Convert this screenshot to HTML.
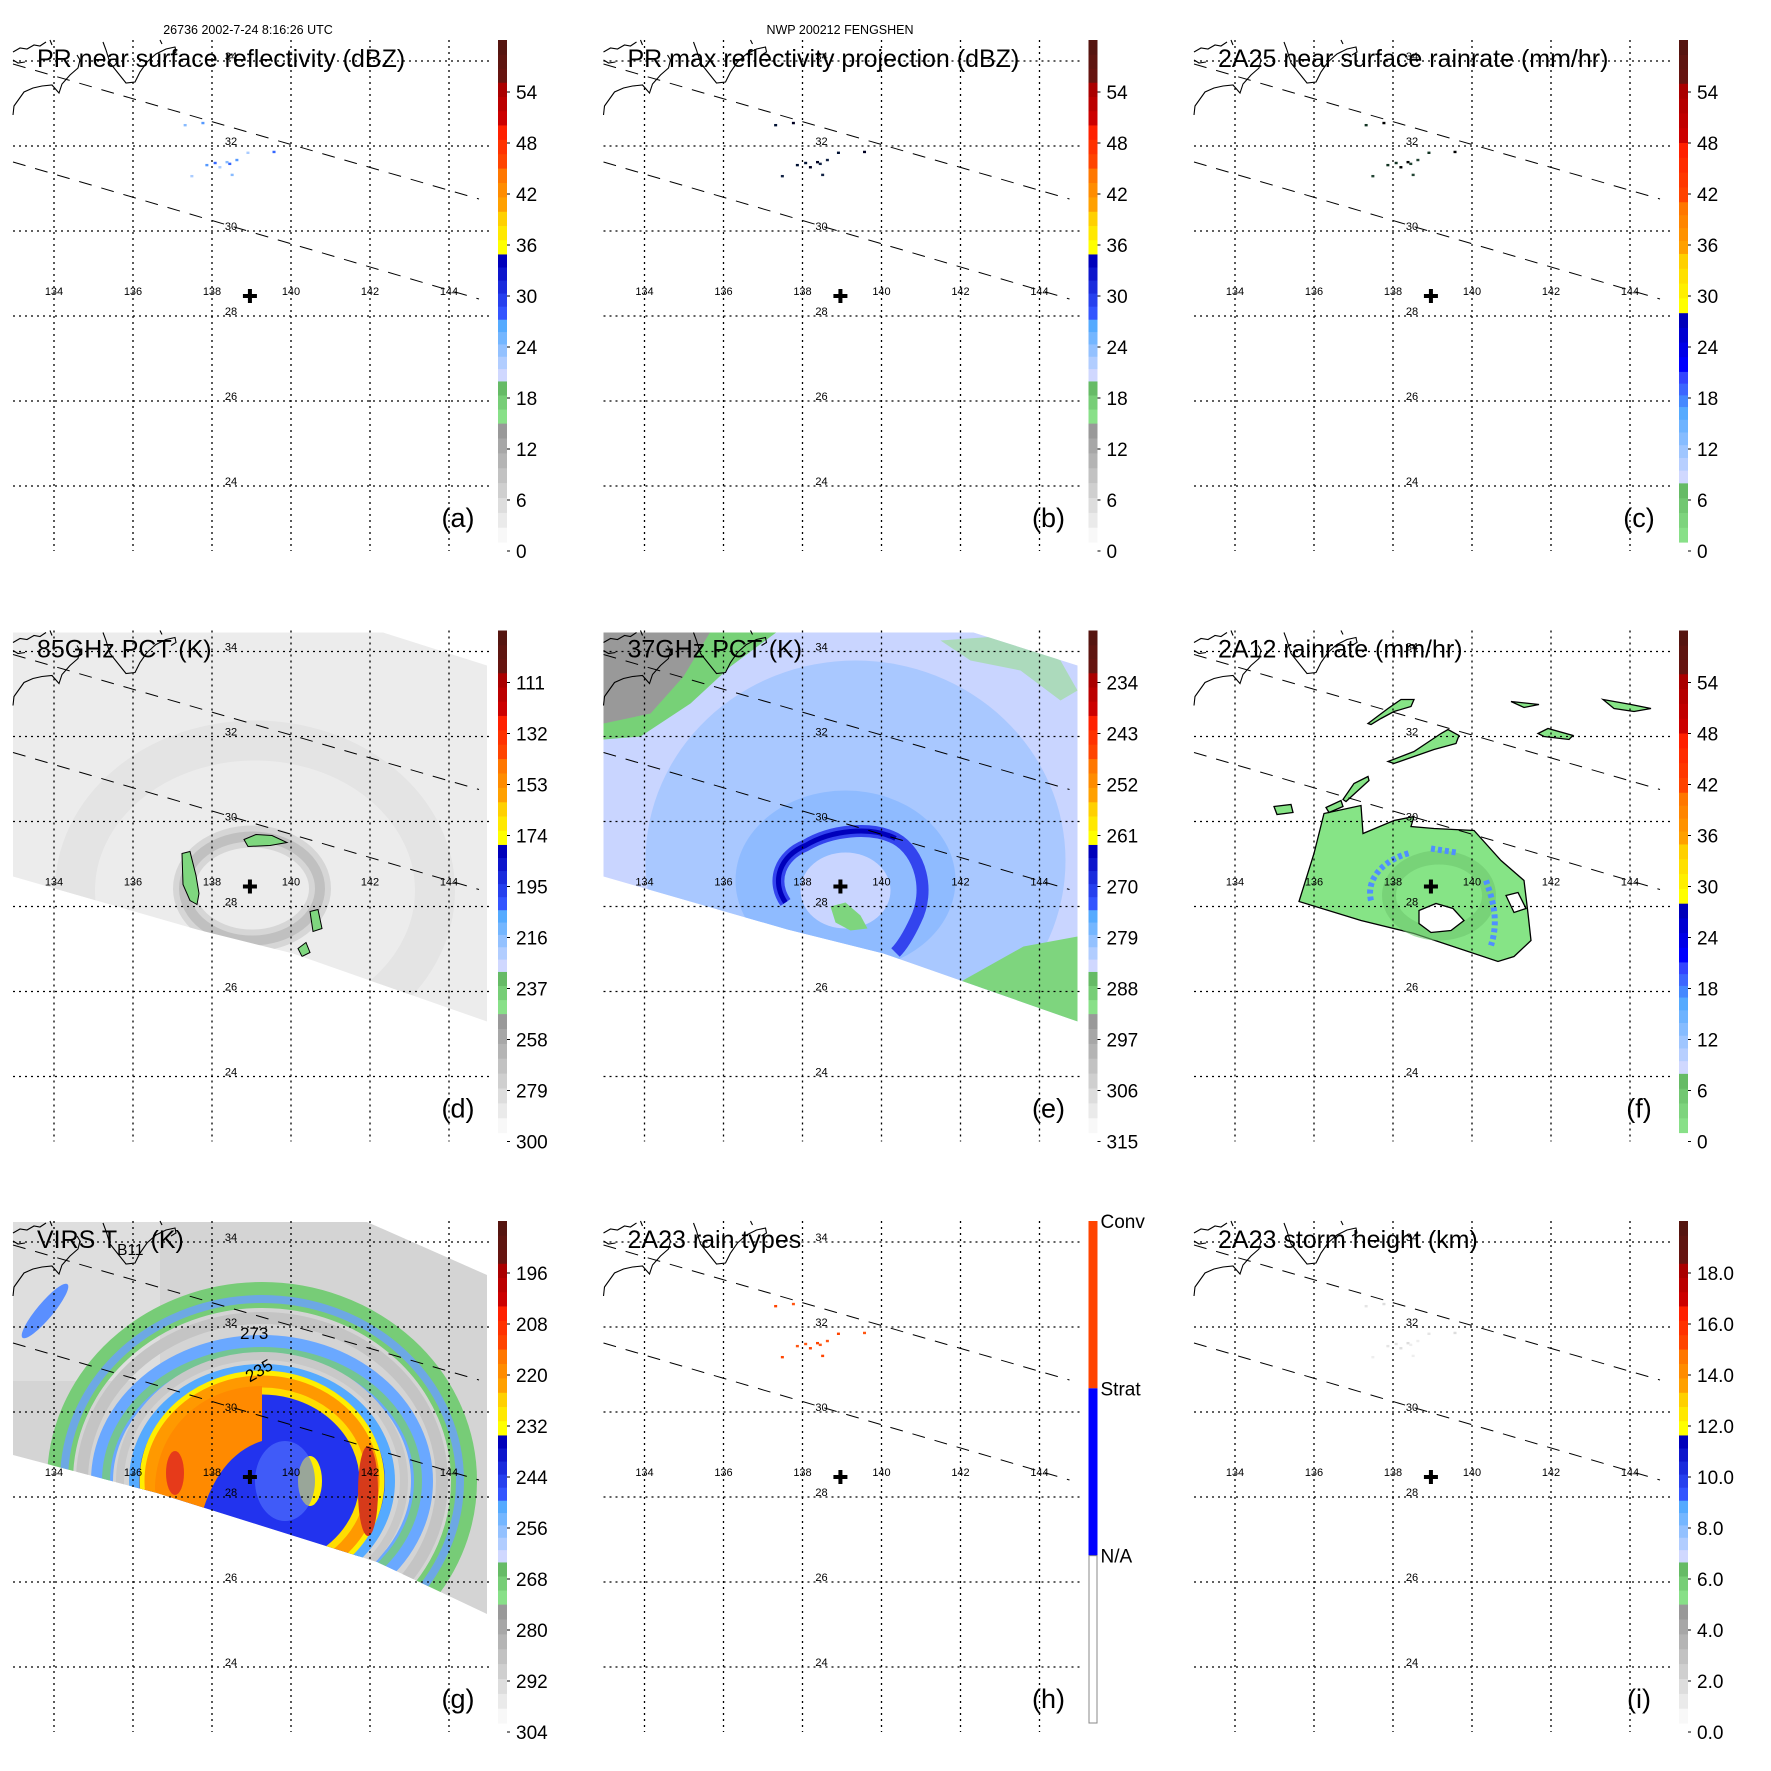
<!DOCTYPE html>
<html><head><meta charset="utf-8"><style>
html,body{margin:0;padding:0;background:#fff;}
svg{display:block;font-family:"Liberation Sans",Arial,sans-serif;}
</style></head><body>
<svg id="fig" width="1771" height="1771" viewBox="0 0 1771 1771" xmlns="http://www.w3.org/2000/svg">
<text x="248" y="34" font-size="12.5" text-anchor="middle">26736 2002-7-24 8:16:26 UTC</text>
<text x="840" y="34" font-size="12.5" text-anchor="middle">NWP 200212 FENGSHEN</text>
</svg>
<script>
const lonTicks=[134,136,138,140,142,144];
const latTicks=[24,26,28,30,32,34];
const stormCenter=[138.96,28.47];
const speckLon=[137.32,137.77,137.49,138.08,138.38,138.63,138.91,139.57,138.51,137.87,138.2,138.45];
const speckLat=[32.49,32.54,31.29,31.60,31.62,31.67,31.84,31.86,31.32,31.55,31.5,31.58];
const ticksDbz=["0","6","12","18","24","30","36","42","48","54"];
const ticks85=["300","279","258","237","216","195","174","153","132","111"];
const ticks37=["315","306","297","288","279","270","261","252","243","234"];
const ticksVirs=["304","292","280","268","256","244","232","220","208","196"];
const ticksHt=["0.0","2.0","4.0","6.0","8.0","10.0","12.0","14.0","16.0","18.0"];
const ticksRain=["0","6","12","18","24","30","36","42","48","54"];

const NS="http://www.w3.org/2000/svg";
const svg=document.getElementById('fig');
const PITCH=590.5;
function xs(lon){return 54+(lon-134)*39.5;}
function ys(lat){return 61+(34-lat)*42.5;}
function el(tag,attrs,parent){const e=document.createElementNS(NS,tag);for(const k in attrs)e.setAttribute(k,attrs[k]);(parent||svg).appendChild(e);return e;}
function hex(c){return [parseInt(c.substr(1,2),16),parseInt(c.substr(3,2),16),parseInt(c.substr(5,2),16)];}
function mix(a,b,t){const A=hex(a),B=hex(b);return 'rgb('+A.map((v,i)=>Math.round(v+(B[i]-v)*t)).join(',')+')';}

const palStd=[[0,0.237,'#f8f8f8','#999999',8],[0.237,0.321,'#88e088','#66bb66',3],[0.321,0.444,'#d0d8ff','#55aaff',5],[0.444,0.574,'#3355ff','#0000bb',5],[0.574,0.659,'#ffff00','#ffd000',3],[0.659,0.745,'#ffa000','#ff7700',3],[0.745,0.831,'#ff4400','#ff2000',3],[0.831,0.916,'#cc0000','#aa0000',3],[0.916,1,'#661410','#551510',3]];
const palRain=[[0,0.118,'#88e088','#66bb66',4],[0.118,0.27,'#d0d8ff','#55aaff',6],[0.27,0.34,'#4488ff','#3344ff',3],[0.34,0.457,'#0000ff','#0000bb',4],[0.457,0.575,'#ffff00','#ffd000',4],[0.575,0.678,'#ffa000','#ff7700',4],[0.678,0.796,'#ff4400','#ff2000',4],[0.796,0.914,'#cc0000','#aa0000',4],[0.914,1,'#661410','#551510',3]];

function panel(idx,o){
  const col=idx%3,row=Math.floor(idx/3);
  const g=el('g',{transform:'translate('+(col*PITCH)+','+(row*PITCH)+')'});
  
  
  const cid='clip'+idx;
  const cp=el('clipPath',{id:cid},g);
  el('polygon',{points:o.swath||'13,40 489,40 489,551 13,551'},cp);
  const img=el('g',{'clip-path':'url(#'+cid+')'},g);
  
  
  if(o.draw)o.draw(img);
  if(o.speck){speckLon.forEach((lo,i)=>{const r=el('rect',{x:xs(lo)-1.5,y:ys(speckLat[i])-1.2,width:3,height:2.4,fill:o.speck[i%o.speck.length]},g);});}
  lonTicks.forEach(lo=>{const l=el('line',{x1:xs(lo),x2:xs(lo),y1:40,y2:551,stroke:'#000','stroke-width':1.3,'stroke-dasharray':'2,4'},g);
    const t=el('text',{x:xs(lo),y:295,'font-size':11,'text-anchor':'middle'},g);t.textContent=lo;});
  latTicks.forEach(la=>{const l=el('line',{x1:13,x2:489,y1:ys(la),y2:ys(la),stroke:'#000','stroke-width':1.3,'stroke-dasharray':'2,4'},g);
    const t=el('text',{x:231,y:ys(la)-1,'font-size':11,'text-anchor':'middle'},g);t.textContent=la;});
  [[13,64,479,199],[13,162,479,299]].forEach((s,i)=>{const l=el('line',{x1:s[0],y1:s[1],x2:s[2],y2:s[3],stroke:'#000','stroke-width':1,'stroke-dasharray':'13,10'},g);});
  const cst=el('path',{d:'M13,52 L20,48 L27,49 L34,45 L40,46 L46,42 M13,60 L18,63 L25,62 M13,115 L14,106 L19,99 L24,92 L33,88 L42,86 L52,85 L59,93 L62,84 L70,75 L78,68 L80,60 L77,55 M50,40 L52,45 M103,42 L106,50 L110,63 L118,73 L126,83 L135,82 L140,72 L147,62 L156,54 L166,49 L175,47 L176,52 L171,55 M160,40 L162,44',fill:'none',stroke:'#000','stroke-width':1.1},g);
  
  const cx=xs(stormCenter[0]),cy=ys(stormCenter[1]);
  const cr=el('path',{d:'M'+(cx-7)+','+cy+' H'+(cx+7)+' M'+cx+','+(cy-7)+' V'+(cy+7),stroke:'#000','stroke-width':4},g);
  
  const tt=el('text',{x:37,y:67,'font-size':25},g);tt.innerHTML=o.title;
  const lb=el('text',{x:458,y:527,'font-size':27,'text-anchor':'middle'},g);lb.textContent='('+o.letter+')';
  const cb=el('g',{},g);
  const top=40,bot=542,H=bot-top;
  if(o.cats){
    el('rect',{x:498,y:top,width:9,height:H/3,fill:'#ff4400'},cb);
    el('rect',{x:498,y:top+H/3,width:9,height:H/3,fill:'#0000ff'},cb);
    el('rect',{x:498.5,y:top+2*H/3,width:8,height:H/3,fill:'#fff',stroke:'#888'},cb);
    o.cats.forEach((c,i)=>{const t=el('text',{x:510,y:top+i*H/3+7,'font-size':19},cb);t.textContent=c;});
  } else {
    o.pal.forEach(b=>{for(let k=0;k<b[4];k++){const f0=b[0]+(b[1]-b[0])*k/b[4],f1=b[0]+(b[1]-b[0])*(k+1)/b[4];
      el('rect',{x:498,y:bot-f1*H,width:9,height:(f1-f0)*H+0.6,fill:mix(b[2],b[3],b[4]>1?k/(b[4]-1):0)},cb);}});
    o.ticks.forEach((t,i)=>{const y=551-i*51;el('line',{x1:507,x2:510,y1:y,y2:y,stroke:'#000'},cb);
      const tx=el('text',{x:516,y:y+7,'font-size':19},cb);tx.textContent=t;});
  }
}
const swathDE='13,42 383,42 487,75 487,431 293,363 197,339 13,286';
const swathG='13,41 367,41 487,94 487,433 377,381 157,312 13,274';

panel(0,{letter:'a',title:'PR near surface reflectivity (dBZ)',pal:palStd,ticks:ticksDbz,speck:['#88bbff','#5599ff','#aaccff','#3366ff']});
panel(1,{letter:'b',title:'PR max reflectivity projection (dBZ)',pal:palStd,ticks:ticksDbz,speck:['#001133','#000022','#112244']});
panel(2,{letter:'c',title:'2A25 near surface rainrate (mm/hr)',pal:palRain,ticks:ticksRain,speck:['#113322','#000000','#224433']});
panel(3,{letter:'d',title:'85GHz PCT (K)',pal:palStd,ticks:ticks85,swath:swathDE,draw:g=>{
  el('rect',{x:0,y:0,width:500,height:560,fill:'#ececec'},g);
  el('ellipse',{cx:255,cy:300,rx:180,ry:150,fill:'none',stroke:'#e4e4e4','stroke-width':40},g);
  el('ellipse',{cx:252,cy:298,rx:68,ry:52,fill:'none',stroke:'#a8a8a8','stroke-width':10,opacity:0.8},g);
  el('ellipse',{cx:252,cy:298,rx:68,ry:52,fill:'none',stroke:'#c8c8c8','stroke-width':22,opacity:0.6},g);
  [['182,263 190,261 196,285 199,303 197,314 190,310 183,294'],['244,249 256,244 272,245 287,252 270,255 248,256'],['310,321 318,319 322,338 313,341'],['298,358 306,352 310,362 302,366']].forEach(p=>{const b=el('polygon',{points:p[0],fill:'#7fd77f',stroke:'#000','stroke-width':1},g);});
}});
panel(4,{letter:'e',title:'37GHz PCT (K)',pal:palStd,ticks:ticks37,swath:swathDE,draw:g=>{
  el('rect',{x:0,y:0,width:500,height:560,fill:'#c9d5ff'},g);
  el('ellipse',{cx:265,cy:270,rx:210,ry:200,fill:'#9ec3ff',opacity:0.75},g);
  el('ellipse',{cx:255,cy:290,rx:110,ry:90,fill:'#7fb2ff',opacity:0.6},g);
  el('ellipse',{cx:255,cy:300,rx:45,ry:38,fill:'#c9d5ff'},g);
  el('polygon',{points:'13,41 187,41 140,76 100,113 50,146 13,149',fill:'#77d177'},g);
  el('polygon',{points:'13,41 120,41 93,86 60,123 13,133',fill:'#999999'},g);
  el('polygon',{points:'367,393 433,356 487,346 487,431',fill:'#7ed57e'},g);
  el('polygon',{points:'240,316 255,312 270,325 277,338 260,340 245,332',fill:'#7ed57e'},g);
  el('polygon',{points:'350,50 420,45 470,70 487,100 470,110 430,80 380,70',fill:'#9fdc9f',opacity:0.7},g);
  const r=el('path',{d:'M195,312 C180,290 190,265 215,255 C240,240 280,235 305,248 C330,262 340,300 325,330 C318,345 312,355 305,362',fill:'none',stroke:'#3344ee','stroke-width':12},g);
  
  el('path',{d:'M195,312 C180,290 190,265 215,255 C240,240 280,235 305,248',fill:'none',stroke:'#0000bb','stroke-width':5},g);
}});
panel(5,{letter:'f',title:'2A12 rainrate (mm/hr)',pal:palRain,ticks:ticksRain,draw:g=>{
  const st={fill:'#86e486',stroke:'#000','stroke-width':1.3};
  const m=el('polygon',Object.assign({points:'118,311 133,263 143,223 180,215 182,243 213,230 233,226 230,236 253,238 293,240 320,270 343,290 347,323 350,350 333,366 317,371 233,343 180,330'},st),g);
  
  el('ellipse',{cx:258,cy:305,rx:50,ry:38,fill:'none',stroke:'#6fc86f','stroke-width':14,opacity:0.6},g);
  el('path',{d:'M190,310 C185,290 200,270 230,262 M250,258 L275,262 M305,290 C312,310 318,330 310,355',fill:'none',stroke:'#4f8fff','stroke-width':6,'stroke-dasharray':'4,3'},g);
  el('polygon',{points:'238,320 255,313 272,318 283,330 270,340 250,342 238,333',fill:'#fff',stroke:'#000','stroke-width':1.3},g);
  el('polygon',{points:'325,305 337,302 345,318 333,322',fill:'#fff',stroke:'#000','stroke-width':1.3},g);
  ['187,133 207,118 220,109 233,109 230,116 213,121 200,128 190,134','207,171 233,161 260,143 267,139 278,145 275,153 253,159 233,166 213,173','162,209 173,193 187,186 188,190 177,200 165,211','330,111 358,114 343,117','422,109 450,114 470,118 453,121 433,118','357,143 367,138 392,145 388,149 363,146','93,216 110,214 112,222 96,224','145,217 160,210 162,216 148,222'].forEach(p=>{const b=el('polygon',Object.assign({points:p},st),g);});
}});
panel(6,{letter:'g',title:'VIRS T<tspan font-size="15.5" dy="7">B11</tspan><tspan dy="-7"> (K)</tspan>',pal:palStd,ticks:ticksVirs,swath:swathG,draw:g=>{
  el('rect',{x:0,y:0,width:500,height:560,fill:'#d4d4d4'},g);
  el('rect',{x:0,y:0,width:160,height:200,fill:'#e2e2e2',opacity:0.7},g);
  const ring=(rx,ry,w,c,op)=>el('ellipse',{cx:262,cy:300,rx:rx,ry:ry,fill:'none',stroke:c,'stroke-width':w,opacity:op||1},g);
  ring(202,186,26,'#77cc77');ring(198,182,8,'#6a9fff',0.8);
  ring(180,163,12,'#c4c4c4');
  ring(160,135,22,'#6aa8ff');ring(156,130,8,'#77cc77',0.8);
  ring(142,125,8,'#c8c8c8');
  el('ellipse',{cx:262,cy:300,rx:128,ry:115,fill:'#2233ee'},g);
  ring(128,112,10,'#55aaff');
  ring(112,100,18,'#ff9900');ring(101,90,7,'#ffdd00');ring(120,108,5,'#ffee00');
  el('path',{d:'M262,205 C200,205 155,250 155,310 L200,340 C210,300 230,270 262,260 Z',fill:'#ff8a00'},g);
  el('ellipse',{cx:175,cy:292,rx:9,ry:22,fill:'#e63a1a'},g);
  el('ellipse',{cx:368,cy:310,rx:10,ry:45,fill:'#d63a1a'},g);
  el('ellipse',{cx:310,cy:300,rx:12,ry:25,fill:'#ffee00'},g);
  el('ellipse',{cx:285,cy:300,rx:30,ry:40,fill:'#5577ff',opacity:0.6},g);
  el('ellipse',{cx:45,cy:130,rx:8,ry:35,transform:'rotate(40 45 130)',fill:'#5a8fff'},g);
  const t1=el('text',{x:240,y:158,'font-size':17},g);t1.textContent='273';
  const t2=el('text',{x:247,y:198,'font-size':17,transform:'rotate(-30 255 195)'},g);t2.textContent='235';
}});
panel(7,{letter:'h',title:'2A23 rain types',cats:['Conv','Strat','N/A'],speck:['#ff4400','#ff5511']});
panel(8,{letter:'i',title:'2A23 storm height (km)',pal:palStd,ticks:ticksHt,speck:['#e4e4e4','#dddddd','#eeeeee']});
</script>
</body></html>
